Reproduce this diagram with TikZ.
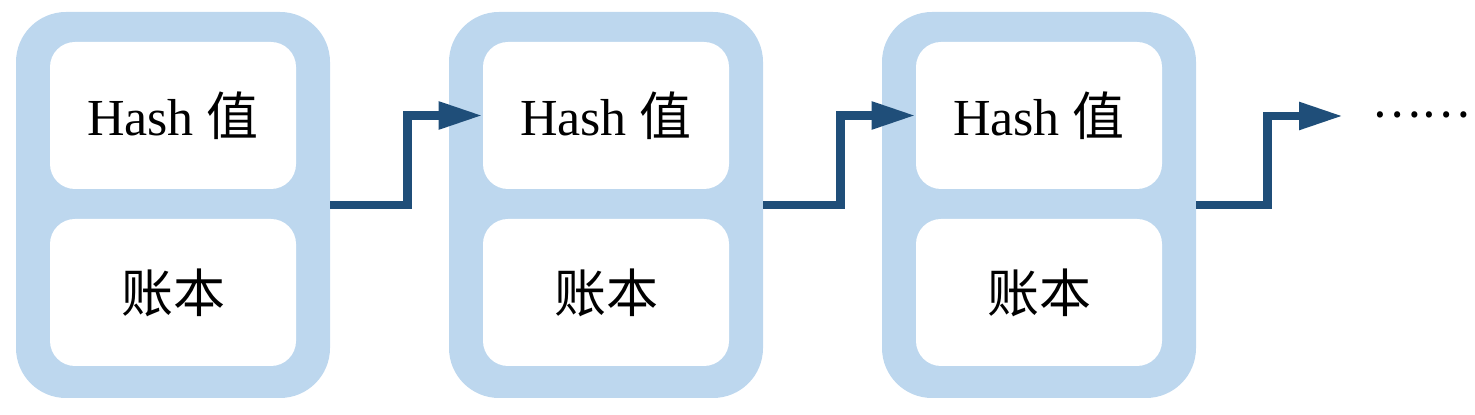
\documentclass[tikz,border=0pt]{standalone}
\usepackage{fontspec}
\setmainfont{Liberation Serif}
\newfontfamily\cjk{Noto Sans CJK SC}
\usetikzlibrary{arrows.meta}
\definecolor{lightblue}{HTML}{BDD7EE}
\definecolor{darkblue}{HTML}{1F4E79}
\tikzset{
	outer/.style={fill=lightblue, rounded corners=25pt, minimum width=157pt, minimum height=193pt, inner sep=0pt},
	inner/.style={fill=white, rounded corners=12.5pt, minimum width=123pt, minimum height=73.5pt, inner sep=0pt, font=\fontsize{26}{30}\selectfont},
	link/.style={draw=darkblue, line width=4.2pt, -{Triangle[length=22pt, width=13pt]}}
}
\newcommand{\chainblk}[2]{
	\node[outer] (blk#1) at (#2,205) {};
	\node[inner] (hash#1) at (#2,115.5) {Hash {\cjk 值}};
	\node[inner] (book#1) at (#2,292.5) {{\cjk 账本}};
}

\begin{document}
\begin{tikzpicture}[x=0.5pt, y=-0.5pt]
	\useasboundingbox (0,0) rectangle (1475,415);

	\chainblk{1}{173}
	\chainblk{2}{606}
	\chainblk{3}{1039}

	\coordinate (more) at (1343,116);
	\node[font=\fontsize{23}{27}\selectfont\cjk] (dots) at (1421,115) {……};

	\draw[link] (blk1.east) -- ++(77,0) |- (hash2.west);
	\draw[link] (blk2.east) -- ++(77,0) |- (hash3.west);
	\draw[link] (blk3.east) -- ++(71,0) |- (more);
\end{tikzpicture}
\end{document}
